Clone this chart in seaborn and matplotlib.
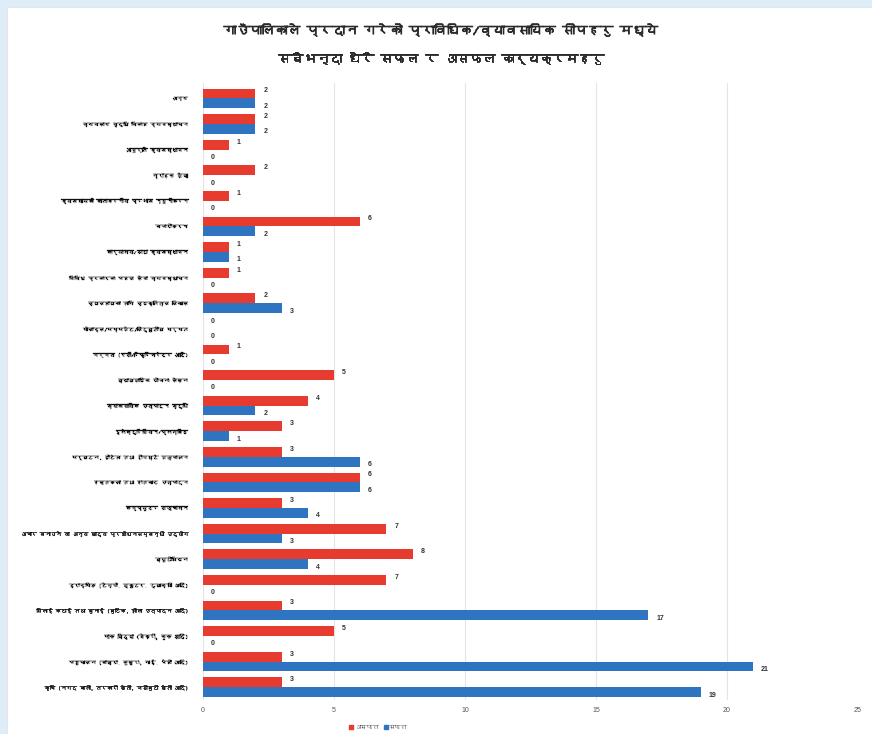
"""
गाउँपालिकाले प्रदान गरेको प्राविधिक/व्यावसायिक सीपहरु — सफल र असफल कार्यक्रम
(क्षैतिज समूहगत बार चार्ट, seaborn)
"""

import matplotlib
matplotlib.use("Agg")
import matplotlib.pyplot as plt
import matplotlib.patheffects as pe
from matplotlib import font_manager
from matplotlib.ft2font import FT2Font
from matplotlib.patches import Rectangle
import pandas as pd
import seaborn as sns

CATEGORIES = [
    "अन्य",
    "व्यवसाय वृद्धि विकास व्यवस्थापन",
    "आपूर्ति व्यवस्थापन",
    "ग्राहक सेवा",
    "व्यवसायको वातावरणीय प्रभाव न्यूनीकरण",
    "बजारीकरण",
    "कार्यालय/डाटा व्यवस्थापन",
    "विविध प्रकारका पसल सेवा व्यवस्थापन",
    "व्यवसायका लागि व्यक्तित्व विकास",
    "मोबाइल/पम्पसेट/विद्युतीय मर्मत",
    "मर्मत (एसी/रिफ्रिजरेटर आदि)",
    "व्यावसायिक योजना लेखन",
    "व्यावसायिक उत्पादन वृद्धि",
    "इलेक्ट्रिसियन/प्लम्बिङ",
    "पर्यटन, होटेल तथा होमस्टे सञ्चालन",
    "हस्तकला तथा हातबाट उत्पादन",
    "कम्प्युटर सञ्चालन",
    "अचार बनाउने वा अन्य खाद्य प्रशोधनसम्बन्धी उद्योग",
    "ब्युटीसियन",
    "ड्राइभिङ (टेम्पो, स्कुटर, ट्याक्सी आदि)",
    "सिलाई कटाई तथा बुनाई (बुटिक, झोला उत्पादन आदि)",
    "पाक विद्या (बेकरी, कुक आदि)",
    "पशुपालन (बाख्रा, कुखुरा, गाई, भैंसी आदि)",
    "कृषि (नगद बाली, तरकारी खेती, जडीबुटी खेती आदि)",
]
ASAFAL = [2, 2, 1, 2, 1, 6, 1, 1, 2, 0, 1, 5, 4, 3, 3, 6, 3, 7, 8, 7, 3, 5, 3, 3]
SAFAL = [2, 2, 0, 0, 0, 2, 1, 0, 3, 0, 0, 0, 2, 1, 6, 6, 4, 3, 4, 0, 17, 0, 21, 19]
SERIES = ["असफल", "सफल"]
X_TICKS = [0, 5, 10, 15, 20, 25]

TITLE = ("गाउँपालिकाले प्रदान गरेको प्राविधिक/व्यावसायिक सीपहरु मध्ये\n"
         "सबैभन्दा धेरै सफल र असफल कार्यक्रमहरु")

RED = "#E63B2E"
BLUE = "#2F74C0"
NUM_FONT = ["Liberation Sans", "DejaVu Sans"]


def devanagari_family():
    # matplotlib ले आफैं खोज्दैन, त्यसैले देवनागरी भएको फन्ट खोज्ने
    for f in font_manager.fontManager.ttflist:
        try:
            if 0x0915 in FT2Font(f.fname).get_charmap():
                return f.name
        except Exception:
            continue
    return None


sns.set_theme(style="whitegrid")
fam = devanagari_family()
plt.rcParams["font.family"] = ([fam] if fam else []) + ["DejaVu Sans"]

df = pd.DataFrame({
    "कार्यक्रम": CATEGORIES * 2,
    "समूह": [SERIES[0]] * len(CATEGORIES) + [SERIES[1]] * len(CATEGORIES),
    "संख्या": ASAFAL + SAFAL,
})

fig = plt.figure(figsize=(8.72, 7.34), dpi=100)
fig.patch.set_facecolor("#DDEEF8")
fig.patches.append(Rectangle((7 / 872, 0), 1, 1 - 7 / 734, transform=fig.transFigure,
                             facecolor="white", edgecolor="#E6E6E6", lw=0.8, zorder=-10))

ax = fig.add_axes([203 / 872, 1 - 700 / 734, 655 / 872, 617 / 734])
ax.set_facecolor("white")
sns.barplot(data=df, y="कार्यक्रम", x="संख्या", hue="समूह", hue_order=SERIES,
            palette=[RED, BLUE], orient="h", width=0.76, gap=0.0, ax=ax,
            legend=False, saturation=1, linewidth=0)

for cont, dy in zip(ax.containers, (-0.1, 0.12)):
    for p in cont:
        w = p.get_width()
        ax.text(w + 0.3, p.get_y() + p.get_height() / 2 + dy, f"{int(w)}",
                fontsize=5, color="#333333", va="center", ha="left",
                fontweight="bold", family=NUM_FONT)

ax.set_xlim(0, 25)
ax.set_xticks(X_TICKS)
ax.set_ylim(len(CATEGORIES) - 0.5, -0.6)
ax.set_xlabel("")
ax.set_ylabel("")
ax.tick_params(axis="x", labelsize=5, colors="#555555", pad=5, length=0)
for t in ax.get_xticklabels():
    t.set_family(NUM_FONT)
ax.tick_params(axis="y", labelsize=3.9, colors="#111111", pad=11, length=0)
for t in ax.get_yticklabels():
    t.set_path_effects([pe.withStroke(linewidth=0.2, foreground="#111111")])
ax.grid(axis="x", color="#E4E4E4", lw=0.8)
ax.grid(axis="y", visible=False)
for s in ax.spines.values():
    s.set_visible(False)

fig.text(0.505, 1 - 44 / 734, TITLE, ha="center", va="center", fontsize=9.2,
         fontweight="bold", color="#2b2b2b", linespacing=2.2,
         path_effects=[pe.withStroke(linewidth=0.6, foreground="#2b2b2b")])

handles = [plt.Line2D([], [], marker="s", ls="", color=c, markersize=3) for c in (RED, BLUE)]
fig.legend(handles, SERIES, loc="center", bbox_to_anchor=(378 / 872, 1 - 727 / 734),
           ncol=2, frameon=False, fontsize=4.5, handletextpad=0.1, columnspacing=0.8,
           handlelength=0.8)

fig.savefig("out.png", dpi=100, facecolor=fig.get_facecolor())
